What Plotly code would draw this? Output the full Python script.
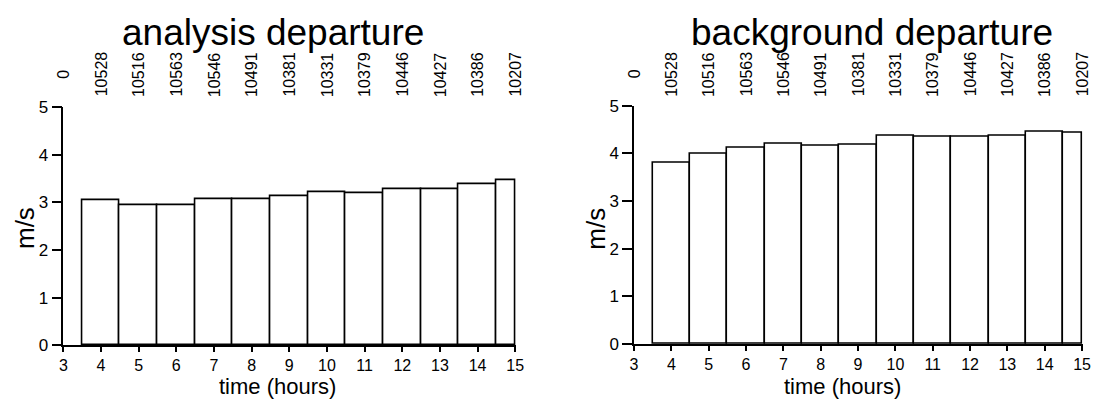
import plotly.graph_objects as go

hours = [4, 5, 6, 7, 8, 9, 10, 11, 12, 13, 14, 15]
analysis_dep = [3.04, 2.95, 2.94, 3.07, 3.07, 3.13, 3.22, 3.20, 3.27, 3.27, 3.39, 3.46]
background_dep = [3.81, 4.00, 4.12, 4.21, 4.17, 4.19, 4.38, 4.35, 4.34, 4.38, 4.45, 4.43]
top_ticks = [3, 4, 5, 6, 7, 8, 9, 10, 11, 12, 13, 14, 15]
top_labels = ["0", "10528", "10516", "10563", "10546", "10491", "10381",
              "10331", "10379", "10446", "10427", "10386", "10207"]
x_ticks = list(range(3, 16))
y_ticks = [0, 1, 2, 3, 4, 5]

FONT = "Liberation Sans, Arial, Helvetica, sans-serif"
W, H = 1104, 406

# bar geometry: unit-wide bars, last one truncated at the axis end (15)
widths = [1.0] * (len(hours) - 1) + [0.5]
offsets = [-0.5] * len(hours)

fig = go.Figure()
for vals, xa, ya in [(analysis_dep, "x", "y"), (background_dep, "x2", "y2")]:
    fig.add_trace(go.Bar(
        x=hours, y=vals, width=widths, offset=offsets,
        marker=dict(color="white", line=dict(color="black", width=1.6)),
        xaxis=xa, yaxis=ya, showlegend=False, hoverinfo="skip"))

def xax(domain, anchor):
    return dict(domain=domain, anchor=anchor, range=[3, 15.03],
                tickmode="array", tickvals=x_ticks, ticktext=[str(t) for t in x_ticks],
                showline=True, linecolor="black", linewidth=1.6,
                ticks="outside", ticklen=5, tickwidth=1.5, tickcolor="black",
                showgrid=False, zeroline=False,
                tickfont=dict(family=FONT, size=16, color="black"))

def yax(domain, anchor):
    return dict(domain=domain, anchor=anchor, range=[0, 5],
                tickmode="array", tickvals=y_ticks,
                showline=True, linecolor="black", linewidth=1.6,
                ticks="outside", ticklen=10, tickwidth=1.5, tickcolor="black",
                showgrid=False, zeroline=False,
                tickfont=dict(family=FONT, size=17, color="black"))

fig.update_layout(
    width=W, height=H, margin=dict(l=0, r=0, t=0, b=0),
    paper_bgcolor="white", plot_bgcolor="white",
    bargap=0,
    xaxis=xax([60 / W, 518 / W], "y"),
    yaxis=yax([1 - 353 / H, 1 - 103 / H], "x"),
    xaxis2=xax([637 / W, 1091 / W], "y2"),
    yaxis2=yax([1 - 351.5 / H, 1 - 101.5 / H], "x2"),
)

ann = []
# titles
for txt, cx in [("analysis departure", 272), ("background departure", 878)]:
    ann.append(dict(text=txt, x=cx / W, y=1 - 25 / H, xref="paper", yref="paper",
                    xanchor="center", yanchor="middle", showarrow=False,
                    font=dict(family=FONT, size=37, color="black")))
# x axis titles
for cx in [276, 848]:
    ann.append(dict(text="time (hours)", x=cx / W, y=-4 / H, xref="paper", yref="paper",
                    xanchor="center", yanchor="bottom", showarrow=False, borderpad=0,
                    font=dict(family=FONT, size=22, color="black")))
# y axis titles
for cx in [21, 599]:
    ann.append(dict(text="m/s", x=cx / W, y=1 - 230 / H, xref="paper", yref="paper",
                    xanchor="center", yanchor="middle", showarrow=False, textangle=-90,
                    font=dict(family=FONT, size=26, color="black")))
# top count labels
for xr in ["x", "x2"]:
    for t, lab in zip(top_ticks, top_labels):
        ann.append(dict(text=lab, x=t, y=1 - 68.5 / H, xref=xr, yref="paper",
                        xanchor="center", yanchor="middle", showarrow=False, textangle=-90,
                        font=dict(family=FONT, size=16, color="black")))
fig.update_layout(annotations=ann)

fig.write_html("out.html")
